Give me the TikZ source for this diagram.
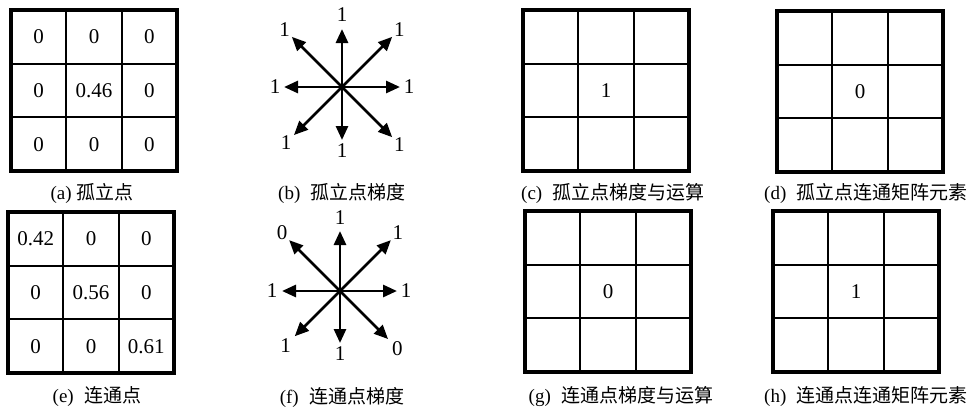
\documentclass[tikz,border=0pt]{standalone}
\usepackage{fontspec}
\setmainfont{Liberation Serif}
\newfontfamily\cjk{Noto Sans CJK SC}
\usetikzlibrary{arrows.meta, positioning}

\begin{document}
\begin{tikzpicture}[
  x=1pt, y=1pt,
  frame/.style={line width=3.2pt},
  cellline/.style={line width=2.2pt},
  val/.style={font=\fontsize{21}{25}\selectfont, inner sep=1pt},
  tiplabel/.style={font=\fontsize{21}{25}\selectfont, inner sep=0pt},
  captext/.style={font=\fontsize{19}{23}\selectfont, inner sep=0pt},
  grad/.style={-{Triangle[length=14pt, width=12pt]}, line width=2.8pt},
]
\useasboundingbox (0,0) rectangle (975,-408);

% ---- 3x3 网格 ----
\foreach \gx/\gy in {11/10, 523/10, 777/11, 8/212, 525/211, 773/211} {
  \draw[cellline] ({\gx+55.3},-\gy) -- ++(0,-161)
                  ({\gx+110.7},-\gy) -- ++(0,-161)
                  (\gx,{-\gy-53.7}) -- ++(166,0)
                  (\gx,{-\gy-107.3}) -- ++(166,0);
  \draw[frame] (\gx,-\gy) rectangle ++(166,-161);
}

% ---- (a) 孤立点 ----
\node[val] (a11) at (38.7,-36.8)  {0};
\node[val] (a12) at (94,-36.8)    {0};
\node[val] (a13) at (149.3,-36.8) {0};
\node[val] (a21) at (38.7,-90.5)  {0};
\node[val] (a22) at (94,-90.5)    {0.46};
\node[val] (a23) at (149.3,-90.5) {0};
\node[val] (a31) at (38.7,-144.2) {0};
\node[val] (a32) at (94,-144.2)   {0};
\node[val] (a33) at (149.3,-144.2){0};

% ---- (e) 连通点 ----
\node[val] (e11) at (35.7,-238.8)  {0.42};
\node[val] (e12) at (91,-238.8)    {0};
\node[val] (e13) at (146.3,-238.8) {0};
\node[val] (e21) at (35.7,-292.5)  {0};
\node[val] (e22) at (91,-292.5)    {0.56};
\node[val] (e23) at (146.3,-292.5) {0};
\node[val] (e31) at (35.7,-346.2)  {0};
\node[val] (e32) at (91,-346.2)    {0};
\node[val] (e33) at (146.3,-346.2) {0.61};

% ---- 中心元素 ----
\node[val] (c22) at (606,-90.5)  {1};
\node[val] (d22) at (860,-91.5)  {0};
\node[val] (g22) at (608,-291.5) {0};
\node[val] (h22) at (856,-291.5) {1};

% ---- (b) 孤立点梯度 ----
\coordinate (bc) at (342,-87);
\foreach \ang/\len/\lr/\lab in {90/58/72/1, 45/71/81/1, 0/58/67/1, -45/71/81/1,
                               -90/53/64/1, -135/68/79/1, 180/58/67/1, 135/71/81/1} {
  \coordinate (b\ang) at ([shift={(\ang:\len)}]bc);
  \draw[grad] (bc) -- (b\ang);
  \node[tiplabel] (bl\ang) at ([shift={(\ang:\lr)}]bc) {\lab};
}

% ---- (f) 连通点梯度 ----
\coordinate (fc) at (340,-291);
\foreach \ang/\len/\lr/\lab in {90/60/73/1, 45/72/82/1, 0/57/66/1, -45/68/81/0,
                               -90/52/63/1, -135/64/77/1, 180/58/68/1, 135/72/82/0} {
  \coordinate (f\ang) at ([shift={(\ang:\len)}]fc);
  \draw[grad] (fc) -- (f\ang);
  \node[tiplabel] (fl\ang) at ([shift={(\ang:\lr)}]fc) {\lab};
}

% ---- 图题 ----
\node[captext] (capa) at (92,-193)  {(a) \cjk 孤立点};
\node[captext] (capb) at (342,-193) {(b)\hspace{0.55em}\cjk 孤立点梯度};
\node[captext] (capc) at (613,-193) {(c)\hspace{0.55em}\cjk 孤立点梯度与运算};
\node[captext] (capd) at (866,-193) {(d)\hspace{0.55em}\cjk 孤立点连通矩阵元素};
\node[captext] (cape) at (97,-397)  {(e)\hspace{0.55em}\cjk 连通点};
\node[captext] (capf) at (342,-397) {(f)\hspace{0.55em}\cjk 连通点梯度};
\node[captext] (capg) at (621,-397) {(g)\hspace{0.55em}\cjk 连通点梯度与运算};
\node[captext] (caph) at (866,-397) {(h)\hspace{0.55em}\cjk 连通点连通矩阵元素};

\end{tikzpicture}
\end{document}
